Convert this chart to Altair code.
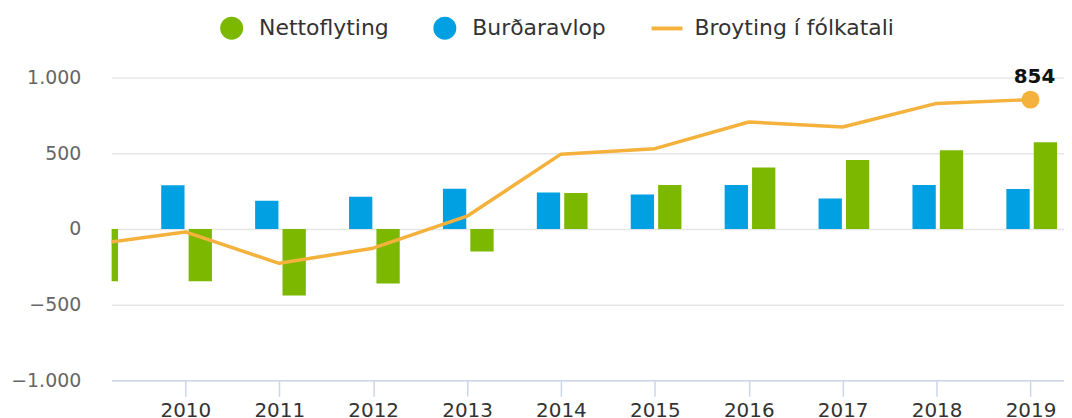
import altair as alt
import pandas as pd

# ---- data ----
years = [2009, 2010, 2011, 2012, 2013, 2014, 2015, 2016, 2017, 2018, 2019]
nettoflyting = [-345, -345, -439, -361, -149, 238, 290, 405, 455, 519, 573]
burd_years = [2010, 2011, 2012, 2013, 2014, 2015, 2016, 2017, 2018, 2019]
burdaravlop = [288, 186, 212, 266, 241, 227, 290, 201, 290, 264]
broyting = [-103, -20, -227, -127, 84, 494, 530, 706, 673, 829, 854]

series_names = ["Nettoflyting", "Burðaravlop", "Broyting í fólkatali"]
series_colors = ["#7cb800", "#00a0e3", "#f4b13c"]
legend_shapes = ["circle", "circle", "M-1.35,-0.17H1.35V0.17H-1.35Z"]
x_ticks = [2010, 2011, 2012, 2013, 2014, 2015, 2016, 2017, 2018, 2019]
y_ticks = [-1000, -500, 0, 500, 1000]

df_n = pd.DataFrame({"year": years, "value": nettoflyting, "series": series_names[0]})
df_b = pd.DataFrame({"year": burd_years, "value": burdaravlop, "series": series_names[1]})
df_l = pd.DataFrame({"year": years, "value": broyting, "series": series_names[2]})
df_all = pd.concat([df_n, df_b, df_l], ignore_index=True)
df_last = df_l[df_l["year"] == years[-1]]

FONT = "DejaVu Sans"

x = alt.X(
    "year:Q",
    scale=alt.Scale(domain=[2009.215, 2019.357], nice=False, zero=False, padding=0),
    axis=alt.Axis(
        values=x_ticks, format="d", title=None, grid=False,
        domainColor="#ccd6eb", domainWidth=1.5,
        tickColor="#ccd6eb", tickWidth=1.5, tickSize=16,
        labelPadding=4, labelFontSize=20, labelColor="#333333", labelFont=FONT,
    ),
)
y = alt.Y(
    "value:Q",
    scale=alt.Scale(domain=[-1000, 1000], nice=False, padding=0),
    axis=alt.Axis(
        values=y_ticks, title=None, domain=False, ticks=False,
        labelExpr="replace(format(datum.value, ','), ',', '.')",
        gridColor="#e6e6e6", gridWidth=1.5,
        labelPadding=31, labelFontSize=19, labelColor="#666666", labelFont=FONT,
    ),
)

leg = alt.Legend(
    title=None, orient="none", legendX=109, legendY=-61, direction="horizontal",
    labelFontSize=22, labelFont=FONT, labelColor="#333333", labelLimit=0,
    symbolSize=529, symbolOpacity=1, symbolStrokeWidth=0,
    labelOffset=16, columnPadding=44, padding=0,
)
color = alt.Color("series:N", scale=alt.Scale(domain=series_names, range=series_colors), legend=leg)
shape = alt.Shape("series:N", scale=alt.Scale(domain=series_names, range=legend_shapes), legend=leg)

legend_carrier = alt.Chart(df_all).mark_point(filled=True, opacity=0).encode(
    x=x, y=y, color=color, shape=shape
)
bars_b = alt.Chart(df_b).mark_bar(width=23.4, xOffset=-12.5, clip=True).encode(x=x, y=y, color=color)
bars_n = alt.Chart(df_n).mark_bar(width=23.4, xOffset=15, clip=True).encode(x=x, y=y, color=color)
line = alt.Chart(df_l).mark_line(strokeWidth=3.5, clip=True, strokeJoin="round", strokeCap="round").encode(
    x=x, y=y, color=color
)
marker = alt.Chart(df_last).mark_circle(size=324, opacity=1).encode(x=x, y=y, color=color)
label = alt.Chart(df_last).mark_text(
    dy=-17, dx=4, baseline="alphabetic", fontSize=20, fontWeight="bold", font=FONT, color="#111111"
).encode(x=x, y=y, text=alt.Text("value:Q", format="d"))

chart = (
    alt.layer(legend_carrier, bars_b, bars_n, line, marker, label)
    .properties(
        width=956, height=304,
        autosize=alt.AutoSizeParams(type="none"),
        padding={"left": 104, "top": 69, "right": 0, "bottom": 37},
        background="white",
    )
    .configure_view(strokeWidth=0)
)

chart.save("out.html", embed_options={"renderer": "svg", "actions": False})
